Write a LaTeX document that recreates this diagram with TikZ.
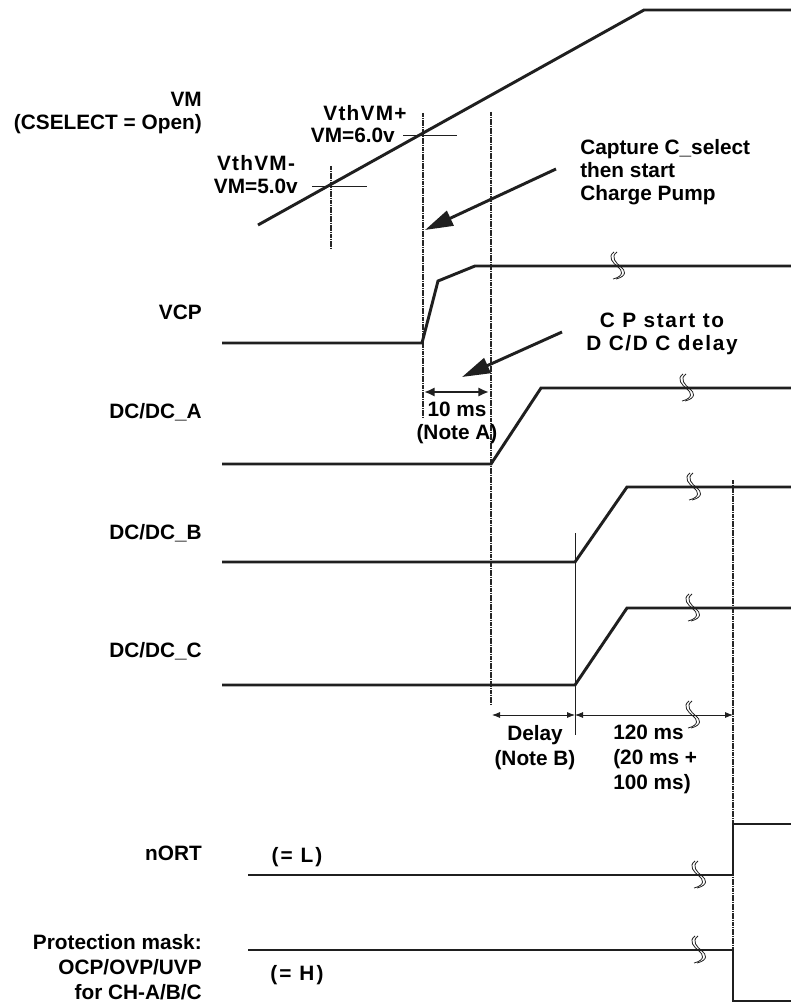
\documentclass[tikz,border=0pt]{standalone}
\usepackage{fontspec}
\setmainfont{Liberation Sans}
\usepackage{tikz}
\usetikzlibrary{arrows.meta}
\colorlet{sigline}{black!88}
\colorlet{guideline}{black!85}
\newcommand{\lblfont}{\fontsize{15.6}{17.4}\selectfont\bfseries}
\newcommand{\widefont}{\fontsize{15.6}{18.7}\selectfont\bfseries}

\begin{document}
\begin{tikzpicture}[x=0.75pt,y=-0.75pt,
        signal/.style={sigline, line width=2.2pt, line join=miter},
        thinline/.style={sigline, line width=0.6pt},
        guide/.style={guideline, line width=2.2pt, dash pattern=on 1.3pt off 0.4pt},
        callout/.style={sigline, line width=2.2pt, -{Triangle[length=21pt,width=12pt]}},
        dimthick/.style={sigline, line width=2pt, {Latex[length=8pt,width=7pt]}-{Latex[length=8pt,width=7pt]}},
        dimthin/.style={sigline, line width=0.6pt, {Latex[length=6pt,width=4.5pt]}-{Latex[length=6pt,width=4.5pt]}},
        siglabel/.style={font=\lblfont, inner sep=0pt, anchor=base east, align=right},
        lab/.style={font=\lblfont, inner sep=0pt}]
    \useasboundingbox (0,0) rectangle (791,1005);

    % signal names
    \node[siglabel] (vm) at (202,129.5) {VM\\(CSELECT = Open)};
    \node[siglabel] (vcp) at (202,320) {VCP};
    \node[siglabel] (dca) at (202,418) {DC/DC\_A};
    \node[siglabel] (dcb) at (202,539) {DC/DC\_B};
    \node[siglabel] (dcc) at (202,657) {DC/DC\_C};
    \node[siglabel] (nort) at (202,860) {nORT};
    \node[siglabel, font=\widefont] (prot) at (202,999.5) {Protection mask:\\OCP/OVP/UVP\\for CH-A/B/C};

    % guide lines
    \draw[guide] (423,113) -- (423,418);
    \draw[guide] (491,112) -- (491,705);
    \draw[guide] (733,480) -- (733,1001);
    \draw[guide, line width=1.6pt] (331,166) -- (331,248);
    \draw[thinline] (403,135) -- (457,135);
    \draw[thinline] (312,186) -- (367,186);
    \draw[thinline] (575,533) -- (575,735);

    % waveforms
    \draw[signal] (258,225) -- (644,10) -- (791,10);
    \draw[signal] (222,343) -- (422,343) -- (438,281) -- (475,266) -- (791,266);
    \draw[signal] (222,464) -- (491,464) -- (541,388) -- (791,388);
    \draw[signal] (222,562) -- (575,562) -- (627,487) -- (791,487);
    \draw[signal] (222,685) -- (575,685) -- (627,608) -- (791,608);
    \draw[signal] (248,875) -- (733,875) -- (733,824) -- (791,824);
    \draw[signal] (248,950) -- (733,950) -- (733,1001) -- (791,1001);

    % break marks
    \foreach \bx/\by in {617/266, 686/388, 693/487, 692/608, 692/715, 698/875, 698/950}{
        \foreach \dx in {0,3}{
            \draw[thinline, shift={(\bx+\dx,\by)}] (-3,-14) .. controls (-10,-9) and (-4,-3) .. (1,1) .. controls (5,4) and (8,10) .. (-4,13);
        }
    }

    % threshold texts
    \node[lab] (vthp) at (365,113) {\addfontfeature{LetterSpace=6}VthVM+};
    \node[lab, anchor=base east] (vmsix) at (395,142.5) {VM=6.0v};
    \node[lab] (vthm) at (256,163) {\addfontfeature{LetterSpace=6}VthVM-};
    \node[lab, anchor=base east] (vmfive) at (298,193.5) {VM=5.0v};

    % callouts
    \node[lab, anchor=base west, align=left] (capture) at (580,200.5) {Capture C\_select\\then start\\Charge Pump};
    \coordinate (captail) at (556,169);
    \coordinate (captip) at (425,230);
    \draw[callout] (captail) -- (captip);

    \node[lab, align=center, anchor=base] (cpdelay) at (662,350.5) {\addfontfeature{LetterSpace=8}C P start to\\\addfontfeature{LetterSpace=8}D C/D C delay};
    \coordinate (cptail) at (562,332);
    \coordinate (cptip) at (462,377);
    \draw[callout] (cptail) -- (cptip);

    % timing dimensions
    \coordinate (tenl) at (424,392);
    \coordinate (tenr) at (489,392);
    \draw[dimthick] (tenl) -- (tenr);
    \node[lab, align=center, anchor=base] (tenms) at (457,439.5) {10 ms\\(Note A)};

    \coordinate (dlyl) at (492,715);
    \coordinate (dlyr) at (575,715);
    \coordinate (endr) at (733,715);
    \draw[dimthin] (dlyl) -- (dlyr);
    \draw[dimthin] (dlyr) -- (endr);
    \node[lab, font=\widefont, align=center, anchor=base] (delay) at (535,765.5) {Delay\\(Note B)};
    \node[lab, font=\widefont, align=left, anchor=base west] (onetwenty) at (613,789.5) {120 ms\\(20 ms +\\100 ms)};

    % levels
    \node[lab] (eql) at (297,857) {\addfontfeature{LetterSpace=10}(= L)};
    \node[lab] (eqh) at (297,975) {\addfontfeature{LetterSpace=10}(= H)};
\end{tikzpicture}
\end{document}
